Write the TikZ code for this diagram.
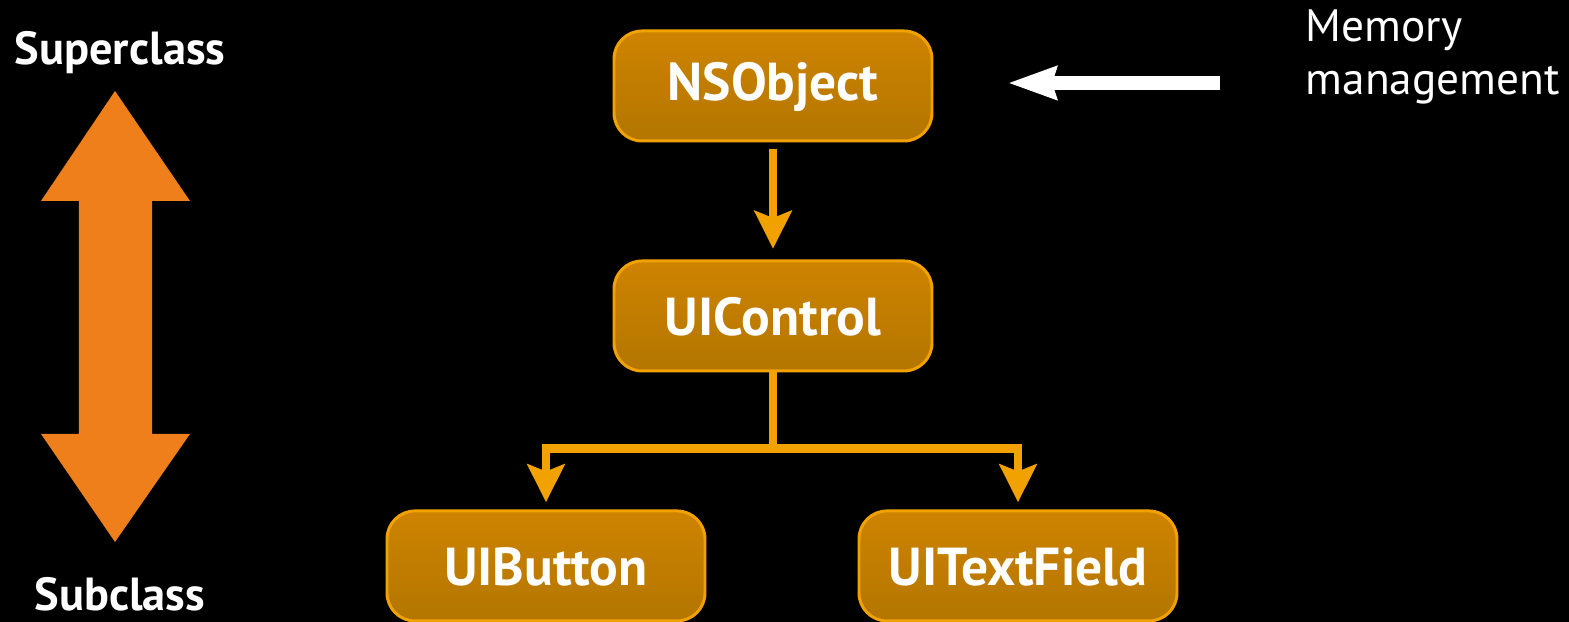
\documentclass[tikz,border=0pt]{standalone}
\usepackage{fontspec}
\setmainfont{PT Sans}
\usetikzlibrary{
  positioning,
  arrows.meta
}

\definecolor{boxtop}{HTML}{CE8300}
\definecolor{boxbot}{HTML}{B37600}
\definecolor{boxline}{HTML}{F2A200}
\definecolor{bigarrow}{HTML}{EE7F1A}

\tikzset{
  classbox/.style = {rectangle, rounded corners=0.28cm, draw=boxline,
    line width=0.85pt, top color=boxtop, bottom color=boxbot,
    minimum width=3.18cm, minimum height=1.1cm, text=white,
    text height=2.3ex, font=\fontsize{15.2}{17}\selectfont\bfseries},
  inherit/.style = {draw=boxline, line width=2.55pt,
    -{Stealth[length=0.38cm, width=0.37cm, inset=0.07cm]}},
  sidetext/.style = {text=white, font=\fontsize{13.2}{15}\selectfont\bfseries}
}

\begin{document}
\begin{tikzpicture}[node distance = 1.17cm]
    \fill[black] (0,0) rectangle (15.69,6.22);
    \useasboundingbox (0,0) rectangle (15.69,6.22);

    \node[classbox] (obj) at (7.73,5.36) {NSObject};
    \node[classbox, below = of obj] (ctrl) {UIControl};
    \node[classbox, below = 1.37cm of ctrl, xshift=-2.27cm] (btn) {UIButton};
    \node[classbox, below = 1.37cm of ctrl, xshift=2.45cm] (field) {UITextField};

    \draw[inherit, shorten <=2pt, shorten >=3pt] (obj) -- (ctrl);
    \draw[draw=boxline, line width=2.55pt] (ctrl.south) -- ++(0,-0.76) coordinate (split);
    \draw[inherit, shorten >=2pt] (split) -| (btn.north);
    \draw[inherit, shorten >=2pt] (split) -| (field.north);

    % up/down arrow
    \fill[bigarrow] (1.15,5.31) -- (1.90,4.21) -- (1.52,4.21) -- (1.52,1.88)
      -- (1.90,1.88) -- (1.15,0.80) -- (0.41,1.88) -- (0.79,1.88)
      -- (0.79,4.21) -- (0.41,4.21) -- cycle;
    \node[sidetext] (super) at (1.20,5.69) {Superclass};
    \node[sidetext] (sub) at (1.20,0.28) {Subclass};

    \node[text=white, align=left, anchor=west, inner sep=0pt,
      font=\fontsize{12.9}{15}\selectfont] (mem) at (13.05,5.65) {Memory\\management};
    \coordinate (memtail) at (12.20,5.39);
    \coordinate (memtip) at (10.08,5.39);
    \draw[white, line width=4.2pt,
      -{Triangle[length=0.48cm, width=0.32cm, inset=0.04cm]}] (memtail) -- (memtip);
  \end{tikzpicture}
\end{document}
